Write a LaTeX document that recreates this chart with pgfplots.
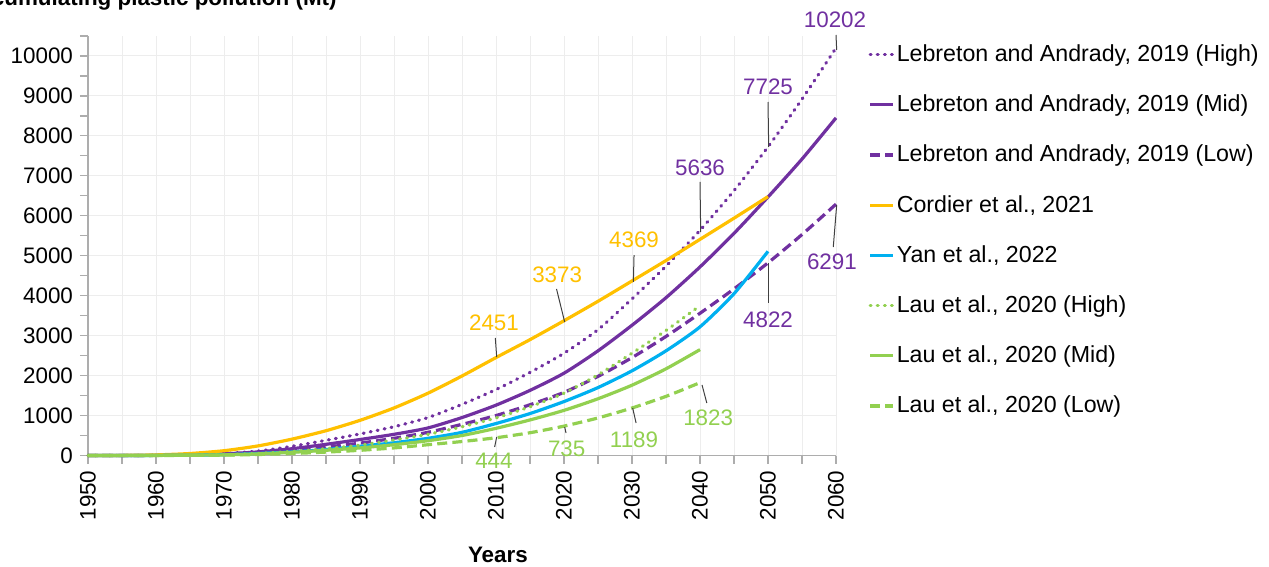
\documentclass[border=0pt]{standalone}
\usepackage{pgfplots}
\pgfplotsset{compat=1.18}
\usepackage{fontspec}
\setmainfont{Liberation Sans}
\definecolor{lpurple}{HTML}{7030A0}
\definecolor{lorange}{HTML}{FFC000}
\definecolor{lcyan}{HTML}{00B0F0}
\definecolor{lgreen}{HTML}{92D050}
\definecolor{gridc}{HTML}{EDEDED}
\definecolor{axc}{HTML}{ADADAD}
\definecolor{leadc}{HTML}{404040}
\newcommand{\fs}{\fontsize{11.2}{13.5}\selectfont}
\newcommand{\fl}{\fontsize{11.6}{14}\selectfont}
\tikzset{
  dotsty/.style={line cap=round, dash pattern=on 0.45pt off 3.1pt},
  dashsty/.style={dash pattern=on 5pt off 2.6pt},
}
\begin{document}
\begin{tikzpicture}
\begin{axis}[
  at={(44pt,-227.75pt)}, anchor=south west,
  scale only axis, width=374pt, height=209.75pt,
  xmin=1950, xmax=2060, ymin=0, ymax=10500,
  xtick={1950,1960,...,2060}, minor xtick={1955,1965,...,2055},
  ytick={0,1000,...,10000}, minor ytick={500,1500,...,10500},
  scaled y ticks=false, scaled x ticks=false,
  xmajorgrids, xminorgrids, ymajorgrids,
  grid style={gridc, line width=0.5pt},
  minor grid style={gridc, line width=0.5pt},
  axis x line*=bottom, axis y line*=left,
  axis line style={axc, line width=0.8pt},
  tick align=outside,
  major tick length=4pt, minor tick length=4pt,
  every tick/.style={axc, line width=0.6pt},
  tick label style={font=\fs, text=black},
  /pgf/number format/assume math mode=true,
  /pgf/number format/1000 sep={},
  xticklabel style={rotate=90, anchor=east},
  xlabel={\textbf{Years}},
  xlabel style={at={(axis description cs:0.548,-0.238)}, anchor=center, font=\fs},
  legend style={at={(axis description cs:1.043,0.985)}, anchor=north west,
    draw=none, fill=none, font=\fl, row sep=13.2pt, inner sep=0pt,
    nodes={inner sep=1pt}},
  legend cell align=left,
  legend image code/.code={\draw[#1] (0pt,0pt) -- (11.5pt,0pt);},
  every axis plot/.append style={line width=1.6pt, smooth, tension=0.4},
  clip=false,
]
% Lebreton and Andrady, 2019 (High)
\addplot[lpurple, dotsty] coordinates {
(1950,0) (1955,1) (1960,5) (1965,20) (1970,50) (1975,110) (1980,230) (1985,380)
(1990,540) (1995,720) (2000,950) (2005,1280) (2010,1650) (2015,2080) (2020,2560)
(2025,3150) (2030,3920) (2035,4740) (2040,5636) (2045,6630) (2050,7725) (2055,8920) (2060,10202)};
\addlegendentry{Lebreton and Andrady, 2019 (High)}
% Mid
\addplot[lpurple] coordinates {
(1950,0) (1955,1) (1960,4) (1965,15) (1970,40) (1975,90) (1980,170) (1985,280)
(1990,400) (1995,530) (2000,690) (2005,950) (2010,1260) (2015,1630) (2020,2060)
(2025,2620) (2030,3260) (2035,3950) (2040,4720) (2045,5560) (2050,6470) (2055,7420) (2060,8450)};
\addlegendentry{Lebreton and Andrady, 2019 (Mid)}
% Low
\addplot[lpurple, dashsty] coordinates {
(1950,0) (1955,1) (1960,3) (1965,12) (1970,30) (1975,70) (1980,130) (1985,210)
(1990,310) (1995,430) (2000,580) (2005,780) (2010,1000) (2015,1270) (2020,1580)
(2025,1980) (2030,2450) (2035,2980) (2040,3560) (2045,4170) (2050,4822) (2055,5530) (2060,6291)};
\addlegendentry{Lebreton and Andrady, 2019 (Low)}
% Cordier
\addplot[lorange] coordinates {
(1950,0) (1955,3) (1960,15) (1965,50) (1970,120) (1975,240) (1980,410) (1985,620)
(1990,880) (1995,1190) (2000,1560) (2005,1990) (2010,2451) (2015,2900) (2020,3373)
(2025,3860) (2030,4369) (2035,4880) (2040,5410) (2045,5940) (2050,6480)};
\addlegendentry{Cordier et al., 2021}
% Yan
\addplot[lcyan] coordinates {
(1950,0) (1955,1) (1960,3) (1965,8) (1970,20) (1975,50) (1980,90) (1985,150)
(1990,230) (1995,320) (2000,430) (2005,580) (2010,800) (2015,1050) (2020,1350)
(2025,1700) (2030,2120) (2035,2620) (2040,3220) (2045,4050) (2050,5110)};
\addlegendentry{Yan et al., 2022}
% Lau High
\addplot[lgreen, dotsty] coordinates {
(1950,0) (1955,1) (1960,3) (1965,8) (1970,20) (1975,50) (1980,100) (1985,170)
(1990,260) (1995,390) (2000,530) (2005,720) (2010,940) (2015,1220) (2020,1560)
(2025,2020) (2030,2560) (2035,3130) (2040,3750)};
\addlegendentry{Lau et al., 2020 (High)}
% Lau Mid
\addplot[lgreen] coordinates {
(1950,0) (1955,1) (1960,2) (1965,6) (1970,15) (1975,40) (1980,80) (1985,130)
(1990,190) (1995,270) (2000,370) (2005,500) (2010,680) (2015,890) (2020,1130)
(2025,1420) (2030,1760) (2035,2170) (2040,2650)};
\addlegendentry{Lau et al., 2020 (Mid)}
% Lau Low
\addplot[lgreen, dashsty] coordinates {
(1950,0) (1955,0) (1960,1) (1965,4) (1970,10) (1975,25) (1980,50) (1985,85)
(1990,130) (1995,190) (2000,270) (2005,350) (2010,444) (2015,570) (2020,735)
(2025,940) (2030,1189) (2035,1480) (2040,1823)};
\addlegendentry{Lau et al., 2020 (Low)}

% leader lines
\begin{scope}[leadc, line width=0.5pt]
\draw (axis cs:2060.1,10150) -- (axis cs:2060,10525);
\draw (axis cs:2050.1,7722) -- (axis cs:2050,8848);
\draw (axis cs:2040.1,5594) -- (axis cs:2040,6846);
\draw (axis cs:2030.2,4343) -- (axis cs:2030.3,5018);
\draw (axis cs:2020.1,3341) -- (axis cs:2018.9,4168);
\draw (axis cs:2010.1,2465) -- (axis cs:2009.9,2941);
\draw (axis cs:2060.1,6270) -- (axis cs:2059.6,5219);
\draw (axis cs:2050,4818) -- (axis cs:2050,3817);
\draw (axis cs:2040.3,1765) -- (axis cs:2041.0,1314);
\draw (axis cs:2030.1,1189) -- (axis cs:2030.6,813);
\draw (axis cs:2020.1,713) -- (axis cs:2020.3,563);
\draw (axis cs:2010.1,463) -- (axis cs:2009.8,213);
\end{scope}
\begin{scope}[every node/.style={font=\fs, inner sep=0pt, anchor=center}]
\node[text=lpurple] at (axis cs:2059.85,10900) {10202};
\node[text=lpurple] at (axis cs:2050.0,9220) {7725};
\node[text=lpurple] at (axis cs:2040.0,7196) {5636};
\node[text=lorange] at (axis cs:2030.3,5394) {4369};
\node[text=lorange] at (axis cs:2019.0,4518) {3373};
\node[text=lorange] at (axis cs:2009.7,3316) {2451};
\node[text=lpurple] at (axis cs:2059.4,4843) {6291};
\node[text=lpurple] at (axis cs:2050.0,3392) {4822};
\node[text=lgreen] at (axis cs:2041.2,939) {1823};
\node[text=lgreen] at (axis cs:2030.3,388) {1189};
\node[text=lgreen] at (axis cs:2020.4,163) {735};
\node[text=lgreen] at (axis cs:2009.7,-138) {444};
\end{scope}
\end{axis}
\node[font=\fs\bfseries, anchor=base east, inner sep=0pt] at (168.5pt,-2.6pt) {Accumulating plastic pollution (Mt)};
\pgfresetboundingbox
\useasboundingbox (0,0) rectangle (634.5pt,-283.5pt);
\end{tikzpicture}
\end{document}
